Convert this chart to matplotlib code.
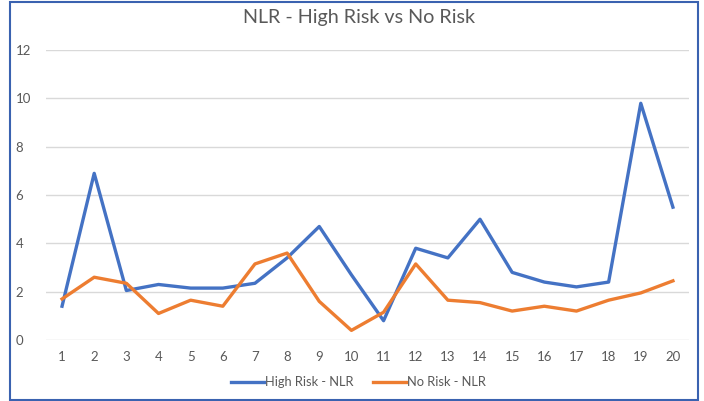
import matplotlib.pyplot as plt
from matplotlib.patches import Rectangle

plt.rcParams['font.family'] = ['Lato', 'DejaVu Sans']

# data
samples = list(range(1, 21))
high_risk = [1.4, 6.9, 2.05, 2.3, 2.15, 2.15, 2.35, 3.4, 4.7, 2.7,
             0.8, 3.8, 3.4, 5.0, 2.8, 2.4, 2.2, 2.4, 9.8, 5.5]
no_risk = [1.7, 2.6, 2.35, 1.1, 1.65, 1.4, 3.15, 3.6, 1.6, 0.4,
           1.15, 3.15, 1.65, 1.55, 1.2, 1.4, 1.2, 1.65, 1.95, 2.45]
y_ticks = [0, 2, 4, 6, 8, 10, 12]

blue = '#4472C4'
orange = '#ED7D31'
grey_txt = '#595959'

fig = plt.figure(figsize=(7.04, 4.01), dpi=100)
ax = fig.add_axes([0.0653, 0.152, 0.9134, 0.723])

ax.plot(samples, high_risk, color=blue, lw=2.4, label='High Risk - NLR',
        solid_joinstyle='round')
ax.plot(samples, no_risk, color=orange, lw=2.4, label='No Risk - NLR',
        solid_joinstyle='round')

ax.set_xlim(0.5, 20.5)
ax.set_ylim(0, 12)
ax.set_xticks(samples)
ax.set_yticks(y_ticks)
ax.yaxis.grid(True, color='#D9D9D9', lw=1)
ax.set_axisbelow(True)
for s in ax.spines.values():
    s.set_visible(False)
ax.tick_params(length=0, labelsize=9.5, colors=grey_txt)
ax.tick_params(axis='y', pad=22)
ax.tick_params(axis='x', pad=8)
for lbl in ax.get_yticklabels():
    lbl.set_horizontalalignment('left')

fig.text(0.51, 0.957, 'NLR - High Risk vs No Risk', ha='center', va='center',
         fontsize=14.2, color=grey_txt)

leg = fig.legend(loc='center', bbox_to_anchor=(0.509, 0.047), ncol=2,
                 frameon=False, fontsize=9.3, handlelength=2.6,
                 handletextpad=0.05, columnspacing=1.5)
for t in leg.get_texts():
    t.set_color(grey_txt)

# blue frame around the whole chart
fig.patches.append(Rectangle((0.0142, 0.003), 0.977, 0.992, transform=fig.transFigure,
                             fill=False, edgecolor='#3A62B0', lw=1.5))

fig.savefig('out.png', dpi=100)
